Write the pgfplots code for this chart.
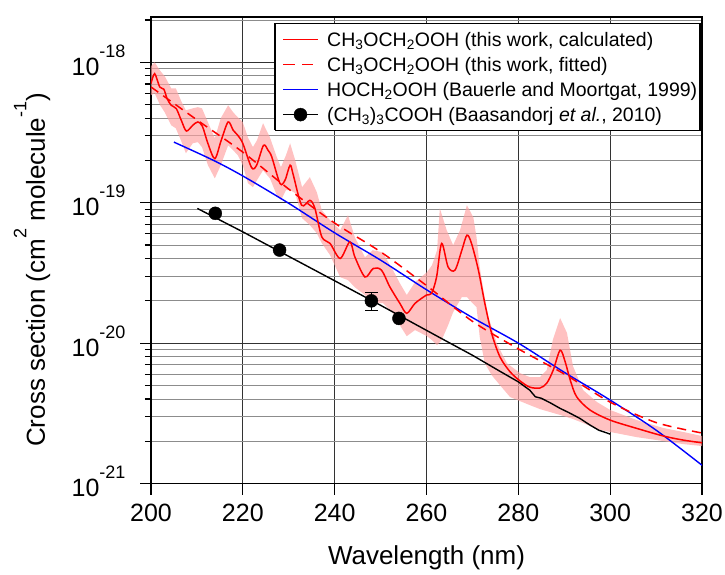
\documentclass[border=0pt]{standalone}
\usepackage{fontspec}
\setmainfont{Liberation Sans}
\usepackage{pgfplots}
\pgfplotsset{compat=1.18}
\definecolor{band}{RGB}{255,160,160}
\newcommand{\sups}[1]{\raisebox{0.72em}{\fontsize{18}{18}\selectfont #1}}

\begin{document}
\begin{tikzpicture}
\path[use as bounding box] (-151pt,-90.5pt) rectangle (574pt,483.5pt);
\begin{axis}[
    at={(0pt,0pt)}, anchor=south west,
    scale only axis, width=551pt, height=466.5pt,
    ymode=log, log basis y=10,
    xmin=200, xmax=320, ymin=1e-21, ymax=2.1e-18,
    xtick={200,220,240,260,280,300,320},
    ytick={1e-21,1e-20,1e-19,1e-18},
    yticklabels={10\sups{-21},10\sups{-20},10\sups{-19},10\sups{-18}},
    minor ytick={2e-21,3e-21,4e-21,5e-21,6e-21,7e-21,8e-21,9e-21,
                 2e-20,3e-20,4e-20,5e-20,6e-20,7e-20,8e-20,9e-20,
                 2e-19,3e-19,4e-19,5e-19,6e-19,7e-19,8e-19,9e-19,2e-18},
    /pgf/number format/assume math mode=true,
    xmajorgrids, ymajorgrids, yminorgrids,
    major grid style={black!80, line width=0.8pt},
    minor grid style={black!45, line width=0.8pt},
    axis line style={line width=1.2pt},
    tick style={black, line width=1.2pt},
    major tick length=11pt, minor tick length=6pt,
    tick align=outside, xtick pos=bottom, ytick pos=left,
    tick label style={font=\fontsize{25}{29}\selectfont},
    xticklabel style={yshift=-6pt},
    yticklabel style={xshift=-11pt, yshift=2pt},
    label style={font=\fontsize{26}{30}\selectfont},
    xlabel={Wavelength (nm)},
    xlabel style={at={(axis description cs:0.5,-0.1726)}, anchor=base},
    ylabel={Cross section (cm\sups{2} molecule\sups{-1})},
    ylabel style={at={(axis description cs:-0.1924,0.458)}, anchor=base},
]
% uncertainty band of the calculated spectrum
\addplot[draw=none, fill=band, fill opacity=0.65] coordinates {
(200,9.37e-19)(200.8,1.0e-18)(202.0,8.7e-19)(203.0,7.95e-19)(204.4,6.53e-19)(205.4,6.53e-19)
(206.5,5.37e-19)(207.6,4.55e-19)(209.1,4.70e-19)(210.2,4.79e-19)(211.1,4.70e-19)(212.4,3.74e-19)
(213.9,2.88e-19)(215.2,4.0e-19)(216.8,4.94e-19)(217.9,4.40e-19)(218.9,4.06e-19)(220.0,3.74e-19)
(221.1,2.92e-19)(222.2,2.49e-19)(223.1,2.79e-19)(224.4,3.68e-19)(225.9,2.92e-19)(227.4,2.11e-19)
(228.3,1.79e-19)(229.4,2.18e-19)(230.3,2.65e-19)(231.4,2.01e-19)(232.9,1.29e-19)(234.6,1.52e-19)
(236.1,1.19e-19)(237.2,8.85e-20)(239.0,7.5e-20)(241.2,6.37e-20)(242.9,8.15e-20)(244.4,5.67e-20)
(246.6,4.09e-20)(248.3,4.59e-20)(250.4,4.44e-20)(252.7,3.31e-20)(254.2,2.67e-20)(255.7,2.20e-20)
(257.5,2.72e-20)(260.1,3.20e-20)(261.2,3.59e-20)(262.3,4.59e-20)(262.9,9.14e-20)(264.4,6.37e-20)
(265.8,4.98e-20)(267.3,6.37e-20)(268.8,9.6e-20)(270.2,7.87e-20)(270.9,5.67e-20)(271.6,3.47e-20)
(272.4,2.38e-20)(273.5,1.53e-20)(275.3,1.0e-20)(277.5,7.2e-21)(280.4,6.11e-21)(282.5,5.73e-21)
(284.7,5.73e-21)(286.2,6.42e-21)(287.5,1.05e-20)(289.1,1.51e-20)(290.6,1.18e-20)(291.9,6.86e-21)
(294.1,4.63e-21)(297.1,3.81e-21)(300.0,3.34e-21)(305.8,2.83e-21)(311.5,2.49e-21)(315.9,2.33e-21)
(320,2.18e-21)
(320,1.85e-21)(315.9,1.91e-21)(311.5,2.01e-21)(305.8,2.14e-21)(300,2.33e-21)(297.1,2.44e-21)
(294.1,2.70e-21)(291.9,2.88e-21)(289.1,3.08e-21)(286.2,3.28e-21)(284.7,3.39e-21)(282.5,3.62e-21)
(280.4,3.86e-21)(278.2,4.13e-21)(276.0,5.02e-21)(274.2,5.91e-21)(272.7,7.2e-21)(271.6,1.10e-20)
(270.9,1.80e-20)(269.8,1.96e-20)(268.8,2.13e-20)(267.7,2.13e-20)(265.8,1.66e-20)(264.7,1.34e-20)
(263.3,1.05e-20)(262.3,9.68e-21)(261.2,1.05e-20)(260.1,1.12e-20)(257.5,1.24e-20)(255.7,1.12e-20)
(254.2,1.34e-20)(252.7,1.635e-20)(250.5,1.93e-20)(248.3,1.93e-20)(246.6,2.20e-20)(244.4,2.50e-20)
(242.9,2.81e-20)(241.2,2.95e-20)(239.0,4.23e-20)(237.2,5.15e-20)(236.1,6.07e-20)(234.6,6.92e-20)
(232.9,7.76e-20)(231.4,1.17e-19)(230.3,1.23e-19)(229.4,1.23e-19)(228.3,1.04e-19)(227.4,1.13e-19)
(225.9,1.49e-19)(224.4,1.70e-19)(223.1,1.45e-19)(222.2,1.29e-19)(221.1,1.38e-19)(220.0,1.85e-19)
(218.9,2.18e-19)(217.9,2.36e-19)(216.8,2.56e-19)(215.2,1.85e-19)(213.9,1.49e-19)(212.4,1.85e-19)
(211.1,2.49e-19)(210.2,2.70e-19)(209.1,2.65e-19)(207.6,2.25e-19)(206.5,2.79e-19)(205.4,3.39e-19)
(204.4,3.56e-19)(203.0,4.40e-19)(202.0,4.94e-19)(200.8,6.02e-19)(200,5.83e-19)
};
% (CH3)3COOH, Baasandorj et al. 2010
\addplot[black, line width=1.4pt] coordinates {
(210.1,9.1e-20)(220,6.2e-20)(230,4.15e-20)(240,2.78e-20)(250,1.86e-20)(263,1.09e-20)
(270,8.2e-21)(276,6.3e-21)(280,5.3e-21)(282.5,4.62e-21)(283.7,4.15e-21)(285,4.05e-21)
(287,3.75e-21)(289.1,3.43e-21)(291,3.2e-21)(293.4,2.91e-21)(295.6,2.61e-21)(297.5,2.4e-21)
(300,2.25e-21)
};
\addplot[black, only marks, mark=*, mark size=6.5pt] coordinates {
(214,8.4e-20)(228,4.6e-20)(254,1.5e-20)
};
\addplot[black, only marks, mark=*, mark size=6.5pt,
    error bars/.cd, y dir=both, y explicit,
    error bar style={line width=1.2pt},
    error mark options={rotate=90, mark size=6.5pt, line width=1.2pt}] coordinates {
(248,2.0e-20) +- (0,0.3e-20)
};
% HOCH2OOH, Bauerle and Moortgat 1999
\addplot[blue, line width=1.4pt, smooth] coordinates {
(205,2.70e-19)(213.5,2.01e-19)(220,1.55e-19)(230,9.9e-20)(240,6.1e-20)(250,3.9e-20)
(260,2.4e-20)(270,1.52e-20)(280,1.0e-20)(290,6.2e-21)(300,3.93e-21)(310,2.4e-21)(320,1.35e-21)
};
% fitted
\addplot[red, line width=1.5pt, dash pattern=on 9pt off 6pt, smooth] coordinates {
(200,6.67e-19)(210,3.89e-19)(220,2.29e-19)(230,1.25e-19)(240,7.16e-20)(250,4.47e-20)
(260,2.57e-20)(270,1.43e-20)(280,9.1e-21)(290,6.03e-21)(300,3.8e-21)(310,2.72e-21)(320,2.29e-21)
};
% calculated
\addplot[red, line width=1.5pt, smooth, tension=0.5] coordinates {
(200,7.05e-19)(200.8,8.3e-19)(201.9,6.67e-19)(202.8,6.43e-19)(203.5,5.52e-19)(204.4,4.94e-19)
(205.5,4.68e-19)(206.6,3.86e-19)(207.7,3.24e-19)(209.1,3.56e-19)(210.2,3.76e-19)(211.2,3.50e-19)
(212.4,2.64e-19)(213.9,2.06e-19)(215.3,2.79e-19)(216.8,3.76e-19)(217.9,3.28e-19)(218.9,3.02e-19)
(220.0,2.64e-19)(221.9,1.78e-19)(223.0,1.85e-19)(224.5,2.56e-19)(225.5,2.36e-19)(226.3,2.12e-19)
(228.1,1.37e-19)(229.2,1.45e-19)(230.3,1.85e-19)(231.0,1.57e-19)(232.8,9.6e-20)(234.6,1.04e-19)
(235.7,9.1e-20)(237.2,5.71e-20)(239.0,5.13e-20)(241.2,4.01e-20)(243.3,5.26e-20)(244.4,4.11e-20)
(246.6,2.96e-20)(248.4,3.40e-20)(250.2,3.31e-20)(252.0,2.52e-20)(254.2,1.92e-20)(255.7,1.63e-20)
(257.5,1.92e-20)(260.0,2.20e-20)(261.1,2.26e-20)(262.2,2.96e-20)(263.3,5.13e-20)(264.7,3.49e-20)
(266.2,3.31e-20)(267.7,4.59e-20)(268.8,5.87e-20)(269.8,5.13e-20)(271.3,3.31e-20)(272.7,1.92e-20)
(274.2,1.17e-20)(276.0,7.98e-21)(278.2,6.25e-21)(280.4,5.37e-21)(282.5,4.86e-21)(284.7,4.79e-21)
(286.2,5.19e-21)(287.6,6.42e-21)(289.1,8.9e-21)(290.2,7.36e-21)(291.3,5.46e-21)(292.7,4.15e-21)
(295.6,3.34e-21)(300.0,2.83e-21)(305.8,2.47e-21)(311.6,2.18e-21)(315.9,2.04e-21)(320,1.95e-21)
};
% legend box and samples (samples as thin filled bars)
\addplot[draw=black, line width=1.2pt, fill=white] coordinates {
(227,3.28e-19)(319.56,3.28e-19)(319.56,1.895e-18)(227,1.895e-18)(227,3.28e-19)};
\addplot[draw=none, fill=red] coordinates {
(228.75,1.4333e-18)(236.37,1.4333e-18)(236.37,1.4690e-18)(228.75,1.4690e-18)};
\addplot[draw=none, fill=red] coordinates {
(228.75,9.512e-19)(231.36,9.512e-19)(231.36,9.749e-19)(228.75,9.749e-19)};
\addplot[draw=none, fill=red] coordinates {
(232.93,9.512e-19)(235.3,9.512e-19)(235.3,9.749e-19)(232.93,9.749e-19)};
\addplot[draw=none, fill=blue] coordinates {
(228.75,6.312e-19)(236.37,6.312e-19)(236.37,6.469e-19)(228.75,6.469e-19)};
\addplot[draw=none, fill=black] coordinates {
(228.75,4.188e-19)(236.37,4.188e-19)(236.37,4.293e-19)(228.75,4.293e-19)};
\addplot[black, only marks, mark=*, mark size=6.5pt] coordinates {(232.56,4.24e-19)};
\end{axis}
\begin{scope}[font=\fontsize{19.5}{23}\selectfont]
\node[anchor=base west, inner sep=0pt] at (176pt,436.8pt) {CH\textsubscript{3}OCH\textsubscript{2}OOH (this work, calculated)};
\node[anchor=base west, inner sep=0pt] at (176pt,411.8pt) {CH\textsubscript{3}OCH\textsubscript{2}OOH (this work, fitted)};
\node[anchor=base west, inner sep=0pt] at (176pt,386.8pt) {HOCH\textsubscript{2}OOH (Bauerle and Moortgat, 1999)};
\node[anchor=base west, inner sep=0pt] at (176pt,361.8pt) {(CH\textsubscript{3})\textsubscript{3}COOH (Baasandorj \textit{et al.}, 2010)};
\end{scope}
\end{tikzpicture}
\end{document}
